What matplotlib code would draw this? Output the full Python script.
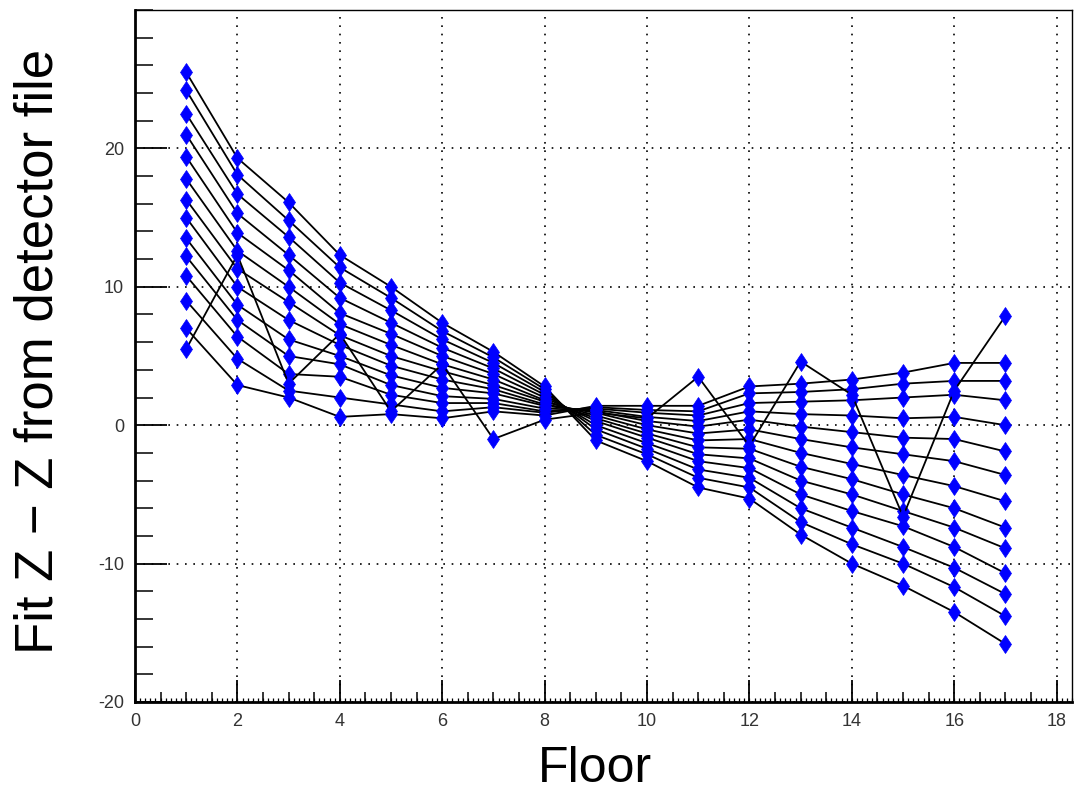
import matplotlib
matplotlib.use("Agg")
import matplotlib.pyplot as plt
from matplotlib.ticker import MultipleLocator

plt.rcParams['font.family'] = ['Liberation Sans', 'DejaVu Sans']
plt.rcParams['axes.unicode_minus'] = False

floors = list(range(1, 18))

# fitted offsets per series, one value per floor
series = [
    [25.5, 19.3, 16.1, 12.3, 10.0, 7.4, 5.3, 2.8, -1.1, -2.6, -4.5, -5.3, -7.9, -10.0, -11.6, -13.5, -15.8],
    [24.2, 18.1, 14.8, 11.4, 9.2, 6.8, 4.9, 2.6, -0.7, -2.1, -3.8, -4.5, -7.0, -8.6, -10.0, -11.7, -13.8],
    [22.5, 16.7, 13.6, 10.3, 8.3, 6.2, 4.5, 2.4, -0.3, -1.7, -3.2, -3.8, -6.0, -7.4, -8.8, -10.3, -12.2],
    [21.0, 15.3, 12.3, 9.2, 7.4, 5.6, 4.1, 2.2, 0.0, -1.3, -2.6, -3.1, -5.0, -6.2, -7.3, -8.8, -10.7],
    [19.4, 13.9, 11.2, 8.1, 6.6, 5.0, 3.7, 2.0, 0.3, -0.9, -2.1, -2.4, -4.0, -5.0, -6.2, -7.4, -8.9],
    [17.8, 12.6, 10.0, 7.3, 5.8, 4.4, 3.3, 1.8, 0.5, -0.6, -1.6, -1.7, -3.0, -3.9, -5.0, -6.0, -7.4],
    [16.3, 11.3, 8.9, 6.5, 5.0, 3.9, 2.9, 1.7, 0.7, -0.3, -1.1, -1.0, -2.0, -2.8, -3.6, -4.4, -5.5],
    [15.0, 10.0, 7.6, 5.8, 4.3, 3.3, 2.6, 1.5, 0.9, 0.0, -0.6, -0.3, -1.0, -1.6, -2.1, -2.6, -3.6],
    [13.5, 8.7, 6.2, 5.0, 3.6, 2.7, 2.3, 1.4, 1.0, 0.3, -0.1, 0.4, -0.1, -0.5, -0.9, -1.0, -1.9],
    [12.2, 7.6, 5.0, 4.4, 2.9, 2.1, 1.9, 1.2, 1.1, 0.6, 0.3, 1.0, 0.8, 0.7, 0.5, 0.6, 0.0],
    [10.8, 6.4, 3.7, 3.5, 2.2, 1.6, 1.6, 1.0, 1.2, 0.9, 0.7, 1.6, 1.7, 1.8, 2.0, 2.2, 1.8],
    [9.0, 4.8, 2.5, 2.0, 1.5, 1.0, 1.3, 0.9, 1.3, 1.1, 1.0, 2.3, 2.4, 2.6, 3.0, 3.2, 3.2],
    [7.0, 2.9, 2.0, 0.6, 0.8, 0.5, 1.0, 0.7, 1.4, 1.4, 1.4, 2.8, 3.0, 3.3, 3.8, 4.5, 4.5],
]
# the one zig-zagging series
outlier = [5.5, 12.3, 3.0, 6.6, 1.0, 4.4, -1.0, 0.4, 0.9, 0.5, 3.5, -1.5, 4.6, 2.2, -6.6, 2.5, 7.9]

x_ticks = [0, 2, 4, 6, 8, 10, 12, 14, 16, 18]
y_ticks = [-20, -10, 0, 10, 20]

fig = plt.figure(figsize=(10.75, 7.95), dpi=100)
ax = fig.add_axes([135 / 1075, 93 / 795, 937 / 1075, 692 / 795])

for s in series + [outlier]:
    ax.plot(floors, s, color='black', lw=1.3, marker='d', ms=9.5,
            mfc=(0, 0, 1), mec=(0, 0, 1), mew=0.5)

ax.set_xlim(0, 18.3)
ax.set_ylim(-20, 30)

ax.set_xticks(x_ticks)
ax.set_yticks(y_ticks)
ax.xaxis.set_minor_locator(MultipleLocator(0.5))
ax.yaxis.set_minor_locator(MultipleLocator(2))
ax.grid(True, which='major', color='black', linestyle=(0, (1, 4)), lw=1.2)

ax.tick_params(which='both', direction='in', top=False, right=False,
               labelsize=13, labelcolor='#333333')
ax.tick_params(axis='y', which='major', length=23, width=1.3, pad=8)
ax.tick_params(axis='y', which='minor', length=13, width=1.1)
ax.tick_params(axis='x', which='major', length=16, width=1.3, pad=8)
ax.tick_params(axis='x', which='minor', length=7, width=1.1)

# tiny 0.1 ticks on the floor axis
sec = ax.secondary_xaxis('bottom')
sec.xaxis.set_major_locator(MultipleLocator(0.1))
sec.tick_params(direction='in', length=3, width=0.9, labelbottom=False)
sec.spines['bottom'].set_visible(False)

for side in ['top', 'right']:
    ax.spines[side].set_linewidth(1.0)
ax.spines['left'].set_linewidth(2.0)
ax.spines['bottom'].set_linewidth(2.0)

ax.set_xlabel('Floor', fontsize=36)
ax.set_ylabel('Fit Z \u2212 Z from detector file', fontsize=38)
ax.xaxis.set_label_coords(0.491, -0.064)
ax.yaxis.set_label_coords(-0.076, 0.506)

fig.savefig('out.png', dpi=100)
